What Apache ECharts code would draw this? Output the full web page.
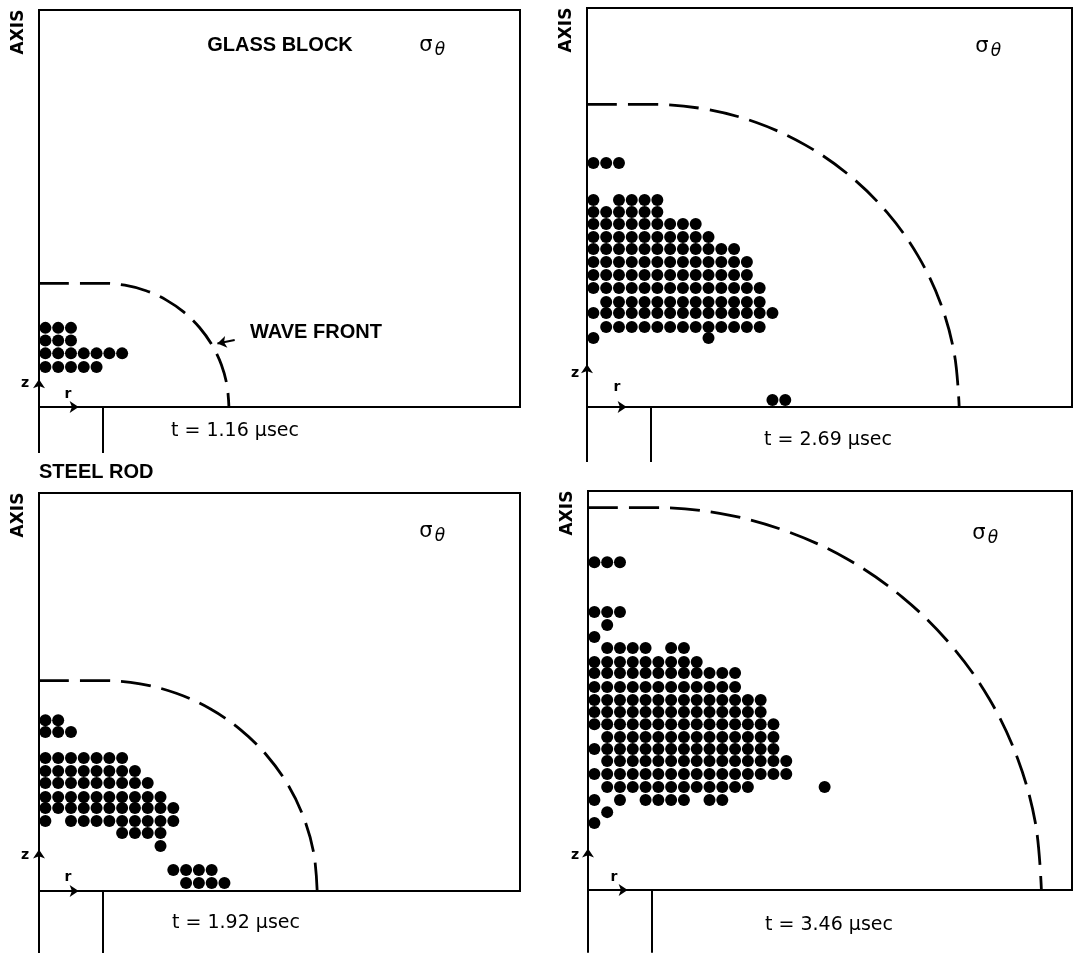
<!DOCTYPE html>
<html><head><meta charset="utf-8">
<script src="https://cdn.jsdelivr.net/npm/echarts@6/dist/echarts.min.js"></script>
<style>html,body{margin:0;padding:0;background:#fff}#c{width:1073px;height:958px}</style>
</head><body><div id="c"></div>
<script>
// ---------------- DATA (units: one dot spacing; r = 0 on the axis, z = 0 at the rod end) ----------------
const panelTitles = ['t = 1.16 \u00b5sec', 't = 2.69 \u00b5sec', 't = 1.92 \u00b5sec', 't = 3.46 \u00b5sec'];
const rodRadius = 5;
// each row: [z, [[firstColumn, lastColumn], ...]]  (dot centres at column + 0.5)
const dotsT116 = [
  [6.3, [[0, 2]]],
  [5.3, [[0, 2]]],
  [4.27, [[0, 6]]],
  [3.18, [[0, 4]]]
];
const dotsT269 = [
  [19.43, [[0, 2]]],
  [16.48, [[0, 0], [2, 5]]],
  [15.53, [[0, 5]]],
  [14.57, [[0, 8]]],
  [13.54, [[0, 9]]],
  [12.58, [[0, 11]]],
  [11.54, [[0, 12]]],
  [10.51, [[0, 12]]],
  [9.47, [[0, 13]]],
  [8.36, [[1, 13]]],
  [7.48, [[0, 14]]],
  [6.37, [[1, 13]]],
  [5.49, [[0, 0], [9, 9]]],
  [0.56, [[14, 15]]]
];
const dotsT192 = [
  [13.6, [[0, 1]]],
  [12.66, [[0, 2]]],
  [10.59, [[0, 6]]],
  [9.55, [[0, 7]]],
  [8.6, [[0, 8]]],
  [7.48, [[0, 9]]],
  [6.6, [[0, 10]]],
  [5.57, [[0, 0], [2, 10]]],
  [4.62, [[6, 9]]],
  [3.58, [[9, 9]]],
  [1.67, [[10, 13]]],
  [0.64, [[11, 14]]]
];
const dotsT346 = [
  [26.1, [[0, 2]]],
  [22.13, [[0, 2]]],
  [21.1, [[1, 1]]],
  [20.14, [[0, 0]]],
  [19.27, [[1, 4], [6, 7]]],
  [18.15, [[0, 8]]],
  [17.28, [[0, 11]]],
  [16.16, [[0, 11]]],
  [15.13, [[0, 13]]],
  [14.17, [[0, 13]]],
  [13.2, [[0, 14]]],
  [12.18, [[1, 14]]],
  [11.23, [[0, 14]]],
  [10.27, [[1, 15]]],
  [9.24, [[0, 15]]],
  [8.2, [[1, 12], [18, 18]]],
  [7.17, [[0, 0], [2, 2], [4, 7], [9, 10]]],
  [6.2, [[1, 1]]],
  [5.33, [[0, 0]]]
];
// wave front points [r, z]
const waveT116 = [[0, 9.85], [5, 9.85], [6.71, 9.7], [8.37, 9.26], [9.93, 8.53], [11.33, 7.55], [12.55, 6.33], [13.53, 4.93], [14.26, 3.37], [14.7, 1.71], [14.85, 0]];
const waveT269 = [[0, 24.1], [5, 24.1], [9.18, 23.73], [13.24, 22.65], [17.05, 20.87], [20.49, 18.46], [23.46, 15.49], [25.87, 12.05], [27.65, 8.24], [28.73, 4.18], [29.1, 0]];
const waveT192 = [[0, 16.75], [5, 16.75], [7.91, 16.5], [10.73, 15.74], [13.38, 14.51], [15.77, 12.83], [17.83, 10.77], [19.51, 8.38], [20.74, 5.73], [21.5, 2.91], [21.75, 0]];
const waveT346 = [[0, 30.45], [5, 30.45], [10.29, 29.99], [15.41, 28.61], [20.23, 26.37], [24.57, 23.32], [28.32, 19.57], [31.37, 15.23], [33.61, 10.41], [34.99, 5.29], [35.45, 0]];

// ---------------- LAYOUT ----------------
const PX_R = 12.79, PX_Z = 12.56; // pixels per dot spacing
const layouts = [
  {left: 39, top: 10, width: 481, height: 397, ext: 3.66, zArrow: [1.0, 2.2], zLab: [25, 383], rLab: [68, 394], tPos: [235, 431], sig: [426, 46]},
  {left: 587, top: 8, width: 485, height: 399, ext: 4.38, zArrow: [2.2, 3.4], zLab: [575, 373], rLab: [617, 387], tPos: [828, 440], sig: [982, 47]},
  {left: 39, top: 493, width: 481, height: 398, ext: 4.94, zArrow: [2.2, 3.3], zLab: [25, 855], rLab: [68, 877], tPos: [236, 923], sig: [426, 532]},
  {left: 588, top: 491, width: 484, height: 399, ext: 5.0, zArrow: [2.15, 3.3], zLab: [575, 855], rLab: [614, 877], tPos: [829, 925], sig: [979, 534]}
];
const panelDots = [dotsT116, dotsT269, dotsT192, dotsT346];
const panelWaves = [waveT116, waveT269, waveT192, waveT346];
const INK = '#000000';
const FONT = '"DejaVu Sans", "Liberation Sans", sans-serif';
const FONT_B = '"Liberation Sans", "DejaVu Sans", sans-serif';

function rowsToPoints(rows) {
  const pts = [];
  rows.forEach(([z, segs]) => segs.forEach(([a, b]) => { for (let c = a; c <= b; c++) pts.push([c + 0.5, z]); }));
  return pts;
}

const grids = [], xAxes = [], yAxes = [], series = [], graphics = [];
function txt(x, y, text, size, opts) {
  opts = opts || {};
  graphics.push({
    type: 'text', x: x, y: y, rotation: opts.rot || 0, z: 100,
    style: {
      text: text, fill: INK,
      font: (opts.italic ? 'italic ' : '') + (opts.bold ? 'bold ' : '') + size + 'px ' + (opts.family || FONT),
      textAlign: opts.align || 'center', align: opts.align || 'center',
      textVerticalAlign: 'middle', verticalAlign: 'middle'
    }
  });
}

layouts.forEach((l, i) => {
  grids.push({left: l.left, top: l.top, width: l.width, height: l.height, show: true,
    borderColor: INK, borderWidth: 2, backgroundColor: 'transparent', outerBoundsMode: 'none', containLabel: false});
  xAxes.push({type: 'value', gridIndex: i, min: 0, max: l.width / PX_R, show: false});
  yAxes.push({type: 'value', gridIndex: i, min: 0, max: l.height / PX_Z, show: false});
  series.push({
    type: 'scatter', xAxisIndex: i, yAxisIndex: i, symbol: 'circle', symbolSize: 12,
    itemStyle: {color: INK, opacity: 1}, data: rowsToPoints(panelDots[i]), silent: true, animation: false
  });
  series.push({
    type: 'line', xAxisIndex: i, yAxisIndex: i, data: panelWaves[i], smooth: 0.35, symbol: 'none',
    lineStyle: {color: INK, width: 2.8, type: [30, 11]}, silent: true, animation: false, clip: false
  });
  // axis and rod-edge lines continuing below the box
  series.push({
    type: 'lines', coordinateSystem: 'cartesian2d', xAxisIndex: i, yAxisIndex: i, clip: false,
    lineStyle: {color: INK, width: 2, opacity: 1}, silent: true, animation: false,
    data: [{coords: [[0, 0], [0, -l.ext]]}, {coords: [[rodRadius, 0], [rodRadius, -l.ext]]}]
  });
  // z and r direction arrows
  const arrows = [{coords: [[0, l.zArrow[0]], [0, l.zArrow[1]]]}, {coords: [[1.9, 0], [3.1, 0]]}];
  if (i === 0) arrows.push({coords: [[15.3, 5.33], [13.95, 5.05]]});
  series.push({
    type: 'lines', coordinateSystem: 'cartesian2d', xAxisIndex: i, yAxisIndex: i, clip: false,
    symbol: ['none', 'arrow'], symbolSize: 9,
    lineStyle: {color: INK, width: 2, opacity: 1}, silent: true, animation: false, data: arrows
  });
  // texts
  txt(l.left - 20, l.top + 22, 'AXIS', 17, {bold: true, rot: Math.PI / 2});
  txt(l.zLab[0], l.zLab[1], 'z', 14, {bold: true});
  txt(l.rLab[0], l.rLab[1], 'r', 14, {bold: true});
  txt(l.tPos[0], l.tPos[1], panelTitles[i], 19);
  txt(l.sig[0], l.sig[1], '\u03c3', 21);
  txt(l.sig[0] + 14, l.sig[1] + 5, '\u03b8', 17, {italic: true});
});
txt(280, 45, 'GLASS BLOCK', 20, {bold: true, family: FONT_B});
txt(250, 332, 'WAVE FRONT', 20, {align: 'left', bold: true, family: FONT_B});
txt(39, 472, 'STEEL ROD', 20, {align: 'left', bold: true, family: FONT_B});

const chart = echarts.init(document.getElementById('c'), null, {renderer: 'canvas'});
chart.setOption({
  backgroundColor: '#ffffff', animation: false,
  grid: grids, xAxis: xAxes, yAxis: yAxes, series: series, graphic: graphics
});
</script></body></html>
